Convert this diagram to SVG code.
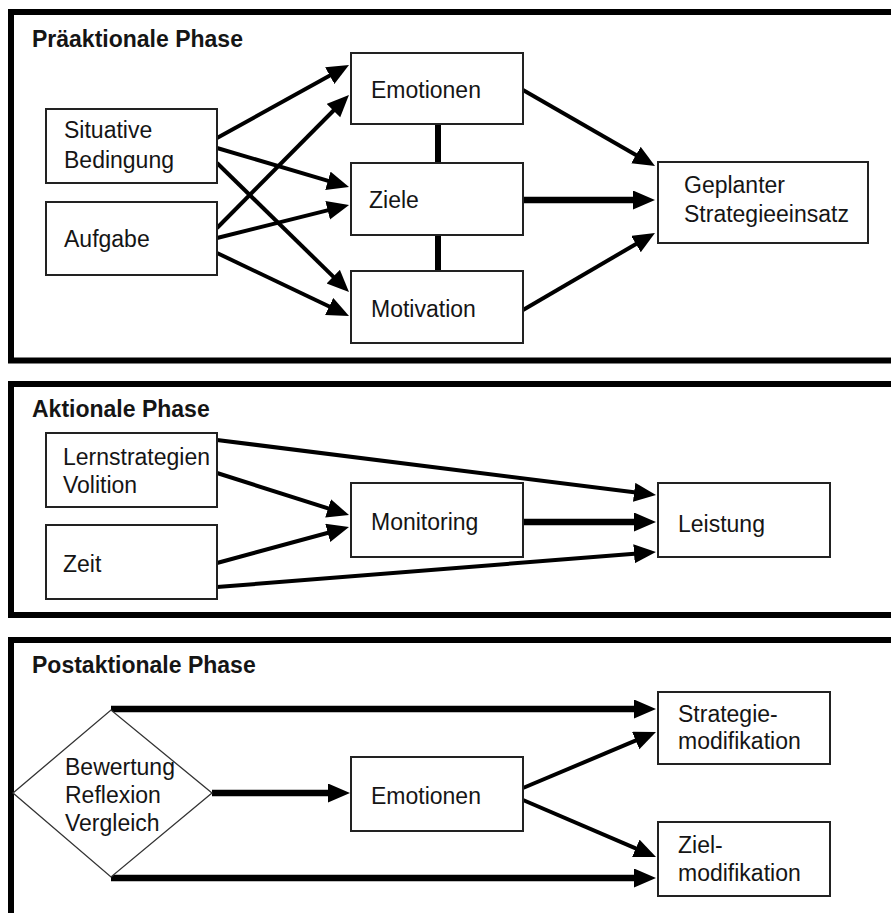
<svg xmlns="http://www.w3.org/2000/svg" width="891" height="913" viewBox="0 0 891 913">
  <style>
    .panel { fill: #fff; stroke: #000; stroke-width: 6; }
    .box { fill: #fff; stroke: #222; stroke-width: 2; }
    .dia { fill: #fff; stroke: #333; stroke-width: 1.3; }
    .t { font-family: "Liberation Sans", Arial, sans-serif; font-size: 23px; fill: #151515; }
    .title { font-family: "Liberation Sans", Arial, sans-serif; font-size: 23px; font-weight: bold; fill: #151515; }
    .c { fill: none; stroke: #000; stroke-width: 4; marker-end: url(#head); }
    .ct { fill: none; stroke: #000; stroke-width: 6.5; marker-end: url(#head); }
    .link { fill: none; stroke: #000; stroke-width: 6; }
  </style>
  <defs>
    <marker id="head" markerUnits="userSpaceOnUse" markerWidth="22" markerHeight="20" refX="10" refY="9.5" orient="auto">
      <path d="M0,0 L22,9.5 L0,19 z" fill="#000"/>
    </marker>
  </defs>

  <rect width="891" height="913" fill="#fff"/>

  <!-- phase frames -->
  <g id="phases">
    <rect class="panel" x="11" y="12" width="900" height="348.5"/>
    <rect class="panel" x="11" y="384" width="900" height="231"/>
    <rect class="panel" x="11" y="640" width="900" height="300"/>
    <text class="title" x="32" y="47">Präaktionale Phase</text>
    <text class="title" x="32" y="417">Aktionale Phase</text>
    <text class="title" x="32" y="673">Postaktionale Phase</text>
  </g>

  <!-- connectors -->
  <g id="connectors">
    <!-- pre-actional -->
    <line class="c" x1="217" y1="138" x2="338.5" y2="70.8"/>
    <line class="c" x1="217" y1="148" x2="337.5" y2="183.6"/>
    <line class="c" x1="217" y1="163" x2="340.4" y2="283.6"/>
    <line class="c" x1="217" y1="228" x2="340.5" y2="103.5"/>
    <line class="c" x1="217" y1="238" x2="337.4" y2="207.9"/>
    <line class="c" x1="217" y1="253" x2="338.2" y2="310.8"/>
    <line class="link" x1="438" y1="124" x2="438" y2="163"/>
    <line class="link" x1="438" y1="235" x2="438" y2="271"/>
    <line class="c" x1="523" y1="90" x2="644.6" y2="160"/>
    <line class="ct" x1="523" y1="200" x2="643" y2="200"/>
    <line class="c" x1="523" y1="310" x2="644.6" y2="239"/>
    <!-- actional -->
    <line class="c" x1="217" y1="440" x2="644.1" y2="493.5"/>
    <line class="c" x1="217" y1="473" x2="337.6" y2="511.4"/>
    <line class="c" x1="217" y1="563" x2="337.4" y2="530.2"/>
    <line class="ct" x1="523" y1="522" x2="644" y2="522"/>
    <line class="c" x1="217" y1="587" x2="644" y2="553"/>
    <!-- post-actional -->
    <line class="ct" x1="111" y1="709" x2="644" y2="709"/>
    <line class="ct" x1="111" y1="878" x2="644" y2="878"/>
    <line class="ct" x1="212" y1="793" x2="338" y2="793"/>
    <line class="c" x1="523" y1="788" x2="644.9" y2="736.7"/>
    <line class="c" x1="523" y1="800" x2="645" y2="852.3"/>
  </g>

  <!-- pre-actional nodes -->
  <g id="situative">
    <rect class="box" x="46" y="109" width="171" height="74"/>
    <text class="t" x="64" y="138">Situative</text>
    <text class="t" x="64" y="168">Bedingung</text>
  </g>
  <g id="aufgabe">
    <rect class="box" x="46" y="202" width="171" height="73"/>
    <text class="t" x="64" y="247">Aufgabe</text>
  </g>
  <g id="emotionen1">
    <rect class="box" x="351" y="53" width="172" height="71"/>
    <text class="t" x="371" y="98">Emotionen</text>
  </g>
  <g id="ziele">
    <rect class="box" x="351" y="163" width="172" height="72"/>
    <text class="t" x="369" y="208">Ziele</text>
  </g>
  <g id="motivation">
    <rect class="box" x="351" y="271" width="172" height="72"/>
    <text class="t" x="371" y="317">Motivation</text>
  </g>
  <g id="strategieeinsatz">
    <rect class="box" x="658" y="162" width="210" height="81"/>
    <text class="t" x="684" y="193">Geplanter</text>
    <text class="t" x="684" y="222">Strategieeinsatz</text>
  </g>

  <!-- actional nodes -->
  <g id="lernstrategien">
    <rect class="box" x="46" y="433" width="171" height="74"/>
    <text class="t" x="63" y="465">Lernstrategien</text>
    <text class="t" x="63" y="493">Volition</text>
  </g>
  <g id="zeit">
    <rect class="box" x="46" y="525" width="171" height="74"/>
    <text class="t" x="63" y="572">Zeit</text>
  </g>
  <g id="monitoring">
    <rect class="box" x="351" y="483" width="172" height="74"/>
    <text class="t" x="371" y="530">Monitoring</text>
  </g>
  <g id="leistung">
    <rect class="box" x="658" y="483" width="172" height="74"/>
    <text class="t" x="678" y="532">Leistung</text>
  </g>

  <!-- post-actional nodes -->
  <g id="bewertung">
    <polygon class="dia" points="13,793 111,710 212,793 111,877"/>
    <text class="t" x="65" y="775">Bewertung</text>
    <text class="t" x="65" y="803">Reflexion</text>
    <text class="t" x="65" y="831">Vergleich</text>
  </g>
  <g id="emotionen2">
    <rect class="box" x="351" y="757" width="172" height="74"/>
    <text class="t" x="371" y="804">Emotionen</text>
  </g>
  <g id="strategiemodifikation">
    <rect class="box" x="658" y="692" width="172" height="72"/>
    <text class="t" x="678" y="722">Strategie-</text>
    <text class="t" x="678" y="749">modifikation</text>
  </g>
  <g id="zielmodifikation">
    <rect class="box" x="658" y="822" width="172" height="74"/>
    <text class="t" x="678" y="853">Ziel-</text>
    <text class="t" x="678" y="881">modifikation</text>
  </g>
</svg>
